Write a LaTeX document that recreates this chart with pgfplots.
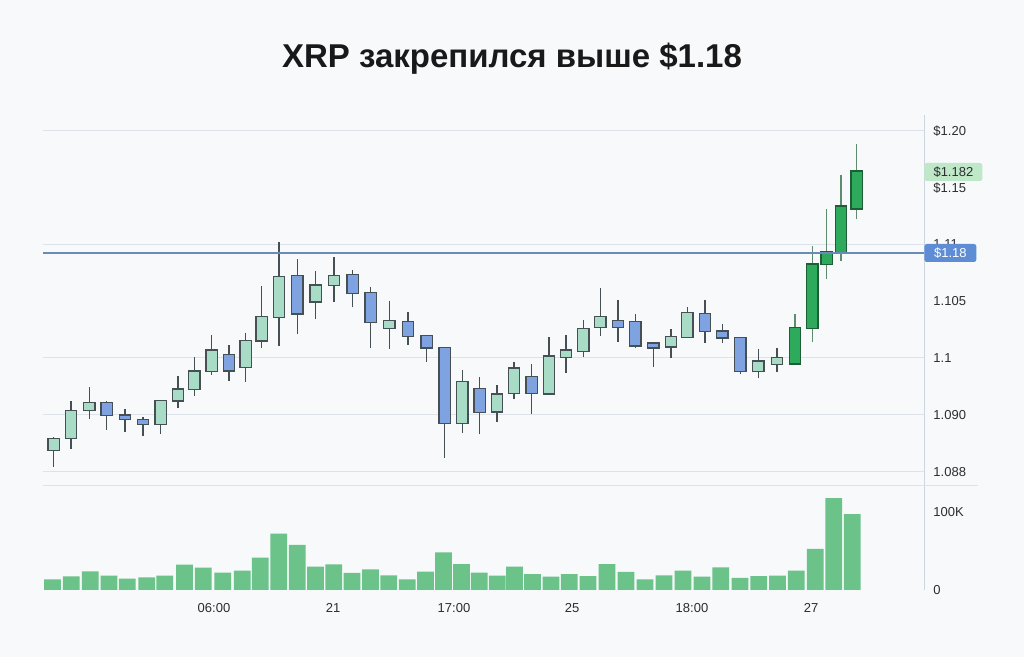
\documentclass[border=0pt]{standalone}
\usepackage{fontspec}
\setmainfont{Liberation Sans}
\usepackage{pgfplots}
\pgfplotsset{compat=1.18}
\usepackage{pgfplotstable}
\usepgfplotslibrary{statistics}

\definecolor{bg}{RGB}{247,249,251}
\definecolor{gridgray}{RGB}{222,227,233}
\definecolor{spine}{RGB}{205,213,222}
\definecolor{labcol}{RGB}{45,45,45}
\definecolor{titlecol}{RGB}{25,25,25}
\definecolor{upfill}{RGB}{169,220,198}
\definecolor{downfill}{RGB}{126,163,224}
\definecolor{bullfill}{RGB}{45,170,92}
\definecolor{bullborder}{RGB}{29,94,54}
\definecolor{bullwick}{RGB}{95,140,110}
\definecolor{cborder}{RGB}{70,80,84}
\definecolor{volgreen}{RGB}{108,195,138}
\definecolor{linecol}{RGB}{106,138,184}
\definecolor{tagblue}{RGB}{94,141,214}
\definecolor{taggreen}{RGB}{191,232,201}

\newcommand{\ticfont}{\fontsize{6.5}{7.8}\selectfont}

\pgfplotsset{
  candle/.style={line width=0.6pt, boxplot/draw direction=y, boxplot/box extend=11.5, boxplot/whisker extend=0},
  cup/.style={candle, draw=cborder, fill=upfill, boxplot/every whisker/.style={line width=0.75pt}},
  cdown/.style={candle, draw=cborder, fill=downfill, boxplot/every whisker/.style={line width=0.75pt}},
  cbull/.style={candle, draw=bullborder, fill=bullfill, boxplot/every whisker/.style={draw=bullwick, line width=0.7pt}},
}

% candle data in chart pixel units (y grows downward): top wick, body top, body bottom, bottom wick; t: 0 up, 1 down, 2 breakout
\pgfplotstableread{
x wt bt bb wb t
53.7 437.3 438.3 450.7 466.7 0
71.0 400.7 410.3 438.3 449.3 0
89.3 387.0 402.3 410.7 418.7 0
106.7 401.3 402.3 415.7 430.0 1
125.0 409.0 415.0 419.7 432.3 1
143.0 417.0 419.7 424.7 436.0 1
160.7 399.7 400.3 424.3 434.0 0
178.0 376.3 389.0 401.0 407.7 0
194.3 356.7 371.0 389.3 396.0 0
211.7 334.7 350.0 371.3 374.7 0
229.0 345.0 354.3 371.0 381.3 1
245.7 332.7 340.7 367.3 381.7 0
261.7 286.3 316.3 341.0 348.0 0
279.0 241.7 276.7 317.3 345.7 0
297.3 259.3 275.7 314.0 334.3 1
315.7 270.7 285.0 302.0 318.7 0
334.0 257.3 275.7 285.7 302.0 0
352.7 270.3 274.7 293.3 307.3 1
370.7 287.3 292.7 322.7 348.3 1
389.3 301.0 320.3 328.3 349.0 0
408.0 312.3 321.7 336.7 345.0 1
426.7 335.7 335.7 348.0 362.0 1
444.7 347.7 347.7 423.7 457.7 1
462.3 370.3 381.3 423.3 433.3 0
479.7 377.0 388.3 412.3 434.3 1
497.0 385.0 394.0 412.0 421.7 0
514.0 362.3 368.0 393.7 399.3 0
531.7 364.3 376.7 393.7 414.3 1
549.0 337.3 356.0 394.0 395.0 0
566.0 335.0 350.0 357.3 373.3 0
583.3 320.0 328.3 351.7 356.7 0
600.3 288.0 316.3 327.7 335.7 0
618.0 299.7 320.3 327.7 342.3 1
635.3 313.7 321.7 346.0 347.7 1
653.3 341.7 343.0 348.0 366.7 1
671.0 329.0 336.3 347.0 358.0 0
687.3 307.3 312.7 337.3 337.3 0
705.0 299.7 313.7 331.3 343.3 1
722.3 324.0 331.0 338.0 343.3 1
740.3 337.3 337.3 371.3 374.3 1
758.3 349.0 361.0 371.3 378.3 0
777.0 348.3 357.7 364.3 372.3 0
795.0 314.3 327.7 364.0 364.0 2
812.3 246.0 264.0 328.3 341.7 2
826.7 209.3 251.7 264.3 279.0 2
841.0 175.0 206.0 252.3 261.0 2
856.7 144.3 171.0 209.0 219.0 2
}\candles

% volume in thousands
\pgfplotstableread{
x v
52.5 13.7
71.3 17.6
90.3 24.0
109.0 18.3
127.3 14.5
146.7 16.3
164.7 18.3
184.5 32.4
203.2 28.6
222.8 22.2
242.2 24.7
260.3 41.4
278.7 72.2
297.3 57.7
315.5 29.9
333.8 32.9
352.0 21.8
370.5 26.5
388.7 18.8
407.2 13.7
425.5 23.5
443.5 48.3
461.5 33.3
479.3 22.2
497.3 18.3
514.5 29.9
532.5 20.5
551.0 17.1
569.3 20.5
588.0 17.9
607.0 33.3
626.0 23.1
645.0 13.7
664.0 18.8
683.0 24.7
702.0 17.1
720.7 29.1
740.0 15.4
758.7 17.9
777.5 18.3
796.3 24.7
815.2 52.6
833.8 117.9
852.3 97.1
}\volume

\pgfplotstablegetrowsof{\candles}
\pgfmathtruncatemacro{\lastrow}{\pgfplotsretval-1}

\begin{document}
\begin{tikzpicture}[x=1pt,y=1pt]
\fill[bg] (0,0) rectangle (512,328.5);
\useasboundingbox (0,0) rectangle (512,328.5);
\node[font=\fontsize{16.5}{20}\selectfont\bfseries, text=titlecol, anchor=base] at (256,294.5) {XRP закрепился выше \$1.18};

\begin{axis}[
  at={(241.75pt,178.25pt)}, anchor=center, scale only axis,
  width=440.5pt, height=185.5pt,
  xmin=43, xmax=924, ymin=115, ymax=486, y dir=reverse,
  axis x line=none, axis y line*=right,
  y axis line style={draw=spine, line width=0.5pt},
  ytick={131,188,244,301,358,415,472},
  yticklabels={\$1.20,\$1.15,1.11,1.105,1.1,1.090,1.088},
  yticklabel style={font=\ticfont, text=labcol, anchor=west, xshift=1.2pt},
  ytick style={draw=none},
  extra y ticks={131,245,358,415,472}, extra y tick labels={},
  extra y tick style={grid=major, major grid style={draw=gridgray, line width=0.5pt}, tick style={draw=none}},
  clip=false,
]
\pgfplotsforeachungrouped \r in {0,...,\lastrow}{%
  \pgfplotstablegetelem{\r}{x}\of\candles \let\cx\pgfplotsretval
  \pgfplotstablegetelem{\r}{wt}\of\candles \let\cwt\pgfplotsretval
  \pgfplotstablegetelem{\r}{bt}\of\candles \let\cbt\pgfplotsretval
  \pgfplotstablegetelem{\r}{bb}\of\candles \let\cbb\pgfplotsretval
  \pgfplotstablegetelem{\r}{wb}\of\candles \let\cwb\pgfplotsretval
  \pgfplotstablegetelem{\r}{t}\of\candles \let\ct\pgfplotsretval
  \ifcase\ct\relax \def\cst{cup}\or \def\cst{cdown}\or \def\cst{cbull}\fi
  \edef\doplot{\noexpand\addplot[\cst, boxplot prepared={draw position=\cx, lower whisker=\cwt, lower quartile=\cbt, median=\cbt, upper quartile=\cbb, upper whisker=\cwb}] coordinates {};}%
  \doplot
}
\addplot[linecol, line width=1pt] coordinates {(43,253) (924,253)};
\node[fill=tagblue, text=white, rounded corners=1.2pt, anchor=west, minimum width=26pt, minimum height=9pt, inner sep=0pt, font=\ticfont] at (axis cs:924,253) {\$1.18};
\node[fill=taggreen, text=labcol, rounded corners=1.2pt, anchor=west, minimum width=29pt, minimum height=9pt, inner sep=0pt, font=\ticfont] at (axis cs:924,172) {\$1.182};
\end{axis}

\draw[gridgray, line width=0.5pt] (21.5,85.5) -- (489,85.5);

\begin{axis}[
  at={(241.75pt,59.5pt)}, anchor=center, scale only axis,
  width=440.5pt, height=52pt,
  xmin=43, xmax=924, ymin=0, ymax=133.33,
  axis x line*=bottom, axis y line*=right,
  x axis line style={draw=none},
  y axis line style={draw=spine, line width=0.5pt},
  ytick={0,100}, yticklabels={0,100K},
  yticklabel style={font=\ticfont, text=labcol, anchor=west, xshift=1.2pt},
  xtick={214,333,454,572,692,811},
  xticklabels={06:00,21,17:00,25,18:00,27},
  xticklabel style={font=\ticfont, text=labcol, yshift=-3pt},
  tick style={draw=none},
]
\addplot[ybar, bar width=16.8, fill=volgreen, draw=none] table[x=x, y=v] {\volume};
\end{axis}
\end{tikzpicture}
\end{document}
